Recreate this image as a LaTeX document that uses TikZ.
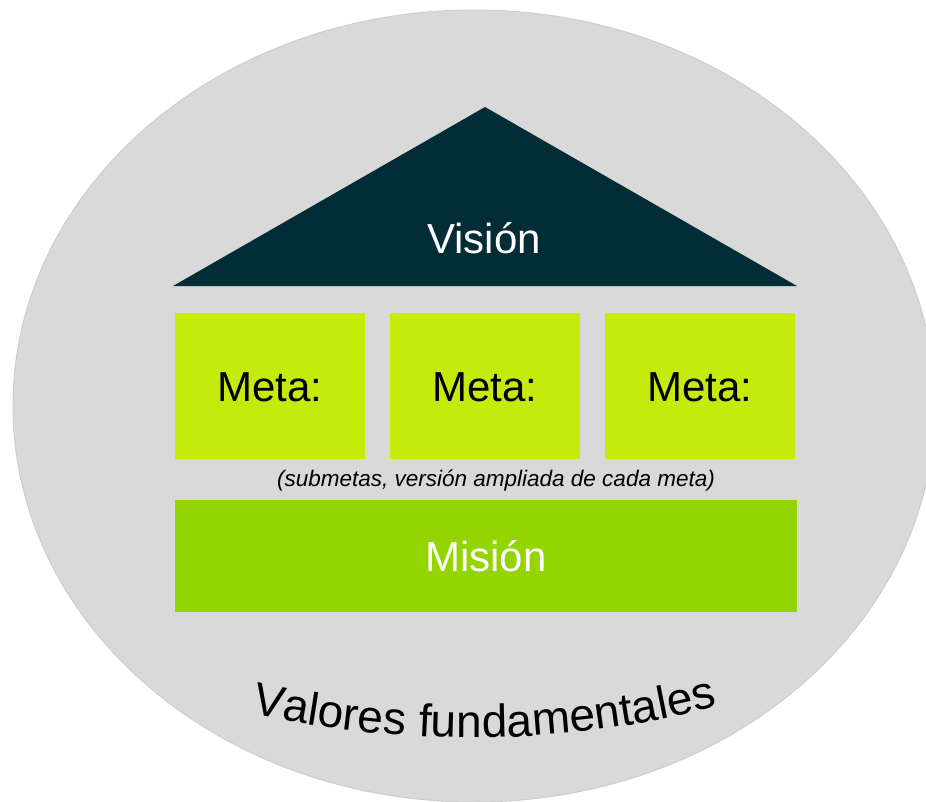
\documentclass[tikz,border=0pt]{standalone}
\usepackage{fontspec}
\setmainfont{Liberation Sans}
\usetikzlibrary{decorations.text}
\definecolor{bggray}{HTML}{D9D9D9}
\definecolor{edgegray}{HTML}{CDCDCD}
\definecolor{roofteal}{HTML}{022C36}
\definecolor{metalime}{HTML}{C5EB0C}
\definecolor{misgreen}{HTML}{94D400}
\begin{document}
\begin{tikzpicture}[x=1pt,y=-1pt,
  bigtext/.style={font=\fontsize{42}{48}\selectfont, text height=30pt, text depth=0pt, inner sep=0pt},
  metabox/.style={bigtext, fill=metalime, text=black, minimum width=190pt, minimum height=146pt},
  misbox/.style={bigtext, fill=misgreen, text=white, minimum width=622pt, minimum height=112pt},
  smalltext/.style={font=\fontsize{22.5}{26}\selectfont\itshape, text=black, inner sep=0pt}]
\useasboundingbox (0,0) rectangle (926,801);
% background ellipse (valores fundamentales)
\begin{scope}
  \clip (0,0) rectangle (926,801);
  \fill[bggray, draw=edgegray, line width=1pt] (474,406) ellipse [x radius=461pt, y radius=396pt];
\end{scope}
% roof
\coordinate (rl) at (173,286);
\coordinate (rt) at (485,107);
\coordinate (rr) at (797,286);
\fill[roofteal] (rl) -- (rt) -- (rr) -- cycle;
\node[bigtext, text=white] (vision) at (484,238) {Visión};
% metas
\node[metabox] (meta1) at (270,386) {Meta:};
\node[metabox] (meta2) at (485,386) {Meta:};
\node[metabox] (meta3) at (700,386) {Meta:};
\node[smalltext] (sub) at (496,481) {(submetas, versión ampliada de cada meta)};
% mision
\node[misbox] (mision) at (486,556) {Misión};
% curved label
\coordinate (vl) at (235,710);
\coordinate (vr) at (733,702);
\path[decorate, decoration={text along path, text align=center, text color=black,
  text={|\fontsize{46}{52}\selectfont|Valores fundamentales}}]
  (vl) .. controls (400,748) and (570,748) .. (vr);
\end{tikzpicture}
\end{document}
